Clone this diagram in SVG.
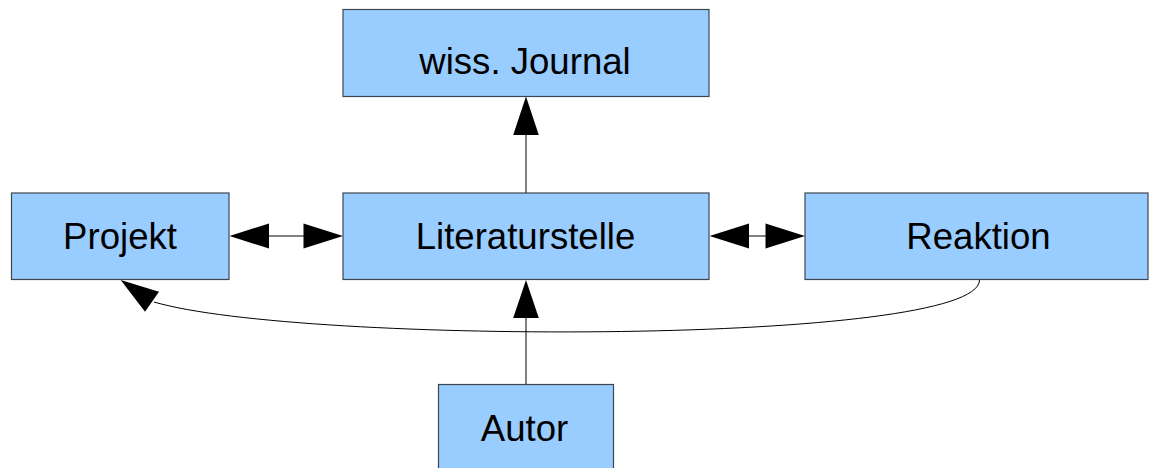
<svg xmlns="http://www.w3.org/2000/svg" width="1149" height="468" viewBox="0 0 1149 468">
<style>
.box{fill:#99ccff;stroke:#3c4650;stroke-width:1.2}
.lbl{font-family:"Liberation Sans",Arial,sans-serif;font-size:36.6px;fill:#000;text-anchor:middle}
.ln{fill:none;stroke:#000;stroke-width:1}
.ah{fill:#000;stroke:none}
</style>
<rect width="1149" height="468" fill="#fff"/>
<g id="connectors">
<line class="ln" x1="268" y1="236" x2="304" y2="236"/>
<polygon class="ah" points="229.5,236 269,223.5 269,248.5"/>
<polygon class="ah" points="343,236 303.5,223.5 303.5,248.5"/>
<line class="ln" x1="748" y1="236" x2="766" y2="236"/>
<polygon class="ah" points="709.5,236 749,223.5 749,248.5"/>
<polygon class="ah" points="805,236 765.5,223.5 765.5,248.5"/>
<line class="ln" x1="526" y1="193" x2="526" y2="134"/>
<polygon class="ah" points="526,96.5 513.2,135 538.8,135"/>
<line class="ln" x1="526" y1="384" x2="526" y2="317"/>
<polygon class="ah" points="526,280 513.2,318 538.8,318"/>
<path class="ln" d="M979.5,280 C979.5,345 300,345 154,302"/>
<polygon class="ah" points="120.7,280 159,291.7 145,311.7"/>
</g>
<g id="journal">
<rect class="box" x="343" y="9.5" width="366" height="87"/>
<text class="lbl" x="525" y="74">wiss. Journal</text>
</g>
<g id="projekt">
<rect class="box" x="11.5" y="193" width="217.5" height="86.5"/>
<text class="lbl" x="120" y="249.3">Projekt</text>
</g>
<g id="literaturstelle">
<rect class="box" x="343" y="193" width="366" height="86.5"/>
<text class="lbl" x="525.5" y="249.3">Literaturstelle</text>
</g>
<g id="reaktion">
<rect class="box" x="805" y="193" width="343" height="86.5"/>
<text class="lbl" x="978.5" y="249.3">Reaktion</text>
</g>
<g id="autor">
<rect class="box" x="438.5" y="384.5" width="175" height="90"/>
<text class="lbl" x="524.5" y="440.7">Autor</text>
</g>
</svg>
